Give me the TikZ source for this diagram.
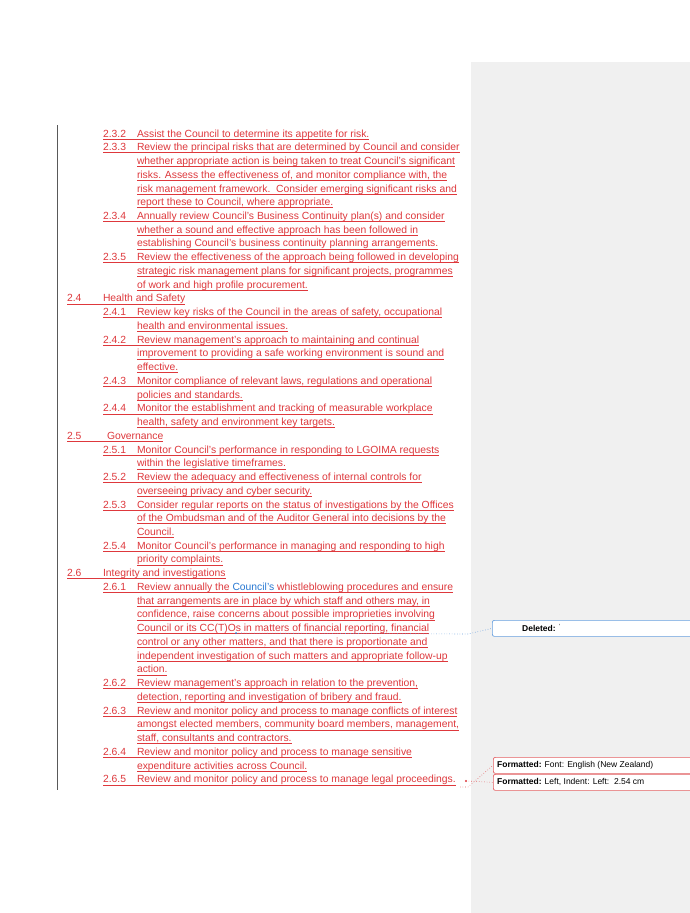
\documentclass[tikz,border=0pt]{standalone}
\usepackage{fontspec}
\setmainfont{Liberation Sans}
\definecolor{trk}{RGB}{222,56,60}
\definecolor{cblue}{RGB}{40,120,210}
\definecolor{pan}{RGB}{240,240,240}
\tikzset{x=1pt,y=-1pt,
 txt/.style={anchor=base west,inner sep=0pt,outer sep=0pt,text=trk,font=\fontsize{10.35}{11}\selectfont},
 ul/.style={draw=trk,line width=0.6pt},
 cbox/.style={draw,rounded corners=2pt,fill=white,line width=0.7pt}}
\newcommand\Lnum[5]{%
 \node[txt] (n) at (#1,#4) {#2};
 \node[txt] (t) at (#3,#4) {#5};
 \draw[ul] (#1,#4+2) -- (t.base east |- 0,#4+2);}
\newcommand\Lc[2]{%
 \node[txt] (t) at (137,#1) {#2};
 \draw[ul] (137,#1+2) -- (t.base east |- 0,#1+2);}
\newcommand\LA[3]{\Lnum{103}{#1}{137}{#2}{#3}}
\begin{document}
\begin{tikzpicture}
\useasboundingbox (0,0) rectangle (690,913);
\fill[white] (0,0) rectangle (690,913);
\fill[pan] (471,62) rectangle (690,913);
\draw[gray!70!black,line width=1pt] (57,125) -- (57,790);
\LA{2.3.2}{137}{Assist the Council to determine its appetite for risk.}
\LA{2.3.3}{150.7}{Review the principal risks that are determined by Council and consider}
\Lc{164.5}{whether appropriate action is being taken to treat Council’s significant}
\Lc{178.2}{risks. Assess the effectiveness of, and monitor compliance with, the}
\Lc{192}{risk management framework.\ \ Consider emerging significant risks and}
\Lc{205.7}{report these to Council, where appropriate.}
\LA{2.3.4}{219.4}{Annually review Council’s Business Continuity plan(s) and consider}
\Lc{233.2}{whether a sound and effective approach has been followed in}
\Lc{246.9}{establishing Council's business continuity planning arrangements.}
\LA{2.3.5}{260.7}{Review the effectiveness of the approach being followed in developing}
\Lc{274.4}{strategic risk management plans for significant projects, programmes}
\Lc{288.1}{of work and high profile procurement.}
\Lnum{67}{2.4}{103}{301.9}{Health and Safety}
\LA{2.4.1}{315.6}{Review key risks of the Council in the areas of safety, occupational}
\Lc{329.4}{health and environmental issues.}
\LA{2.4.2}{343.1}{Review management’s approach to maintaining and continual}
\Lc{356.8}{improvement to providing a safe working environment is sound and}
\Lc{370.6}{effective.}
\LA{2.4.3}{384.3}{Monitor compliance of relevant laws, regulations and operational}
\Lc{398.1}{policies and standards.}
\LA{2.4.4}{411.8}{Monitor the establishment and tracking of measurable workplace}
\Lc{425.5}{health, safety and environment key targets.}
\Lnum{67}{2.5}{107}{439.3}{Governance}
\LA{2.5.1}{453}{Monitor Council’s performance in responding to LGOIMA requests}
\Lc{466.8}{within the legislative timeframes.}
\LA{2.5.2}{480.5}{Review the adequacy and effectiveness of internal controls for}
\Lc{494.2}{overseeing privacy and cyber security.}
\LA{2.5.3}{508}{Consider regular reports on the status of investigations by the Offices}
\Lc{521.7}{of the Ombudsman and of the Auditor General into decisions by the}
\Lc{535.5}{Council.}
\LA{2.5.4}{549.2}{Monitor Council’s performance in managing and responding to high}
\Lc{562.9}{priority complaints.}
\Lnum{67}{2.6}{103}{576.7}{Integrity and investigations}
\LA{2.6.1}{590.4}{Review annually the \textcolor{cblue}{Council’s} whistleblowing procedures and ensure}
\Lc{604.2}{that arrangements are in place by which staff and others may, in}
\Lc{617.9}{confidence, raise concerns about possible improprieties involving}
\Lc{631.6}{Council or its CC(T)Os in matters of financial reporting, financial}
\Lc{645.4}{control or any other matters, and that there is proportionate and}
\Lc{659.1}{independent investigation of such matters and appropriate follow-up}
\Lc{672.9}{action.}
\LA{2.6.2}{686.6}{Review management’s approach in relation to the prevention,}
\Lc{700.3}{detection, reporting and investigation of bribery and fraud.}
\LA{2.6.3}{714.1}{Review and monitor policy and process to manage conflicts of interest}
\Lc{727.8}{amongst elected members, community board members, management,}
\Lc{741.6}{staff, consultants and contractors.}
\LA{2.6.4}{755.3}{Review and monitor policy and process to manage sensitive}
\Lc{769}{expenditure activities across Council.}
\LA{2.6.5}{782.8}{Review and monitor policy and process to manage legal proceedings.}
% comments
\node[cbox,draw=cblue!70,minimum width=210pt,minimum height=16pt,anchor=north west] (d) at (492,620) {};
\node[anchor=west,inner sep=0pt,font=\fontsize{8.5}{9}\selectfont] (dt) at (522,628) {\textbf{Deleted:} \textsuperscript{'}};
\coordinate (dm) at (236,633);
\draw[cblue!70,dotted,line width=0.6pt] (dm) -- (468,634) -- (d.west);
\fill[cblue] (dm) circle (1pt);
\node[cbox,draw=trk!80,minimum width=210pt,minimum height=16pt,anchor=north west] (f1) at (493,757) {};
\node[cbox,draw=trk!80,minimum width=210pt,minimum height=16pt,anchor=north west] (f2) at (493,774) {};
\node[anchor=west,inner sep=0pt,font=\fontsize{8.5}{9}\selectfont] at (497,765) {\textbf{Formatted:} Font: English (New Zealand)};
\node[anchor=west,inner sep=0pt,font=\fontsize{8.5}{9}\selectfont] at (497,782) {\textbf{Formatted:} Left, Indent: Left:\ \ 2.54 cm};
\coordinate (fm) at (466,781);
\fill[trk] (fm) circle (1.2pt);
\draw[trk!80,dotted,line width=0.6pt] (fm) -- (f2.west);
\draw[trk!80,dotted,line width=0.6pt] (460,787) -- (468,787) -- (f1.west);
\end{tikzpicture}
\end{document}
